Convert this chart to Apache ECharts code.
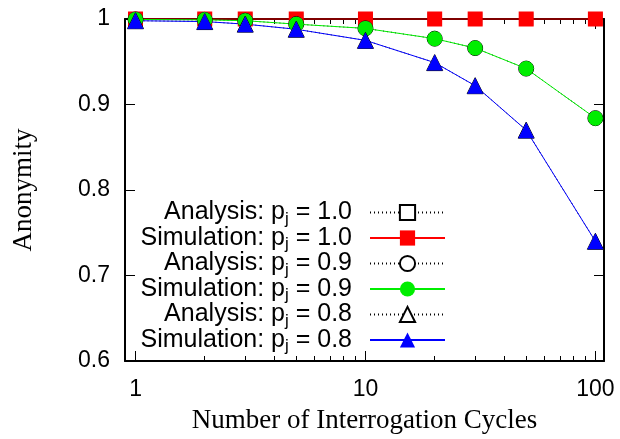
<!DOCTYPE html>
<html>
<head>
<meta charset="utf-8">
<script src="https://cdn.jsdelivr.net/npm/echarts@6/dist/echarts.min.js"></script>
<style>
  html, body { margin: 0; padding: 0; background: #fff; }
  #chart { width: 620px; height: 439px; }
</style>
</head>
<body>
<div id="chart"></div>
<script>
// interrogation cycles (x) and anonymity values (y)
const cycles = [1, 2, 3, 5, 10, 20, 30, 50, 100]
const anaP10 = [1, 1, 1, 1, 1, 1, 1, 1, 1]
const simP10 = [1, 1, 1, 1, 1, 1, 1, 1, 1]
const anaP09 = [0.9995, 0.999, 0.998, 0.994, 0.989, 0.977, 0.966, 0.942, 0.884]
const simP09 = [0.9995, 0.999, 0.998, 0.994, 0.989, 0.977, 0.966, 0.942, 0.884]
const anaP08 = [0.998, 0.997, 0.994, 0.988, 0.975, 0.949, 0.922, 0.870, 0.740]
const simP08 = [0.998, 0.997, 0.994, 0.988, 0.975, 0.949, 0.922, 0.870, 0.740]

const majorTicksX = [1, 10, 100]
const minorTicksX = [2, 3, 4, 5, 6, 7, 8, 9, 20, 30, 40, 50, 60, 70, 80, 90]

const legendNames = [
  'Analysis: pj = 1.0', 'Simulation: pj = 1.0',
  'Analysis: pj = 0.9', 'Simulation: pj = 0.9',
  'Analysis: pj = 0.8', 'Simulation: pj = 0.8'
]

const pairs = ys => cycles.map((x, i) => [x, ys[i]])

const chart = echarts.init(document.getElementById('chart'))

const sansFont = 'Liberation Sans'
const serifFont = 'Liberation Serif'

const xBase = {
  type: 'log',
  min: 0.9,
  max: 109,
  splitLine: { show: false },
  axisLine: { show: false },
  axisLabel: { show: false },
  axisTick: { inside: true, length: 5, lineStyle: { color: '#000', width: 1 }, customValues: minorTicksX }
}

const analysis = (name, ys, symbol, size) => ({
  name,
  type: 'line',
  data: pairs(ys),
  symbol,
  symbolSize: size,
  clip: false,
  itemStyle: { color: '#fff', borderColor: '#000', borderWidth: 1 },
  lineStyle: { color: '#000', width: 1, type: [1, 3] },
  emphasis: { disabled: true }
})

const simulation = (name, ys, symbol, size, color) => ({
  name,
  type: 'line',
  data: pairs(ys),
  symbol,
  symbolSize: size,
  clip: false,
  itemStyle: { color, borderWidth: 0 },
  lineStyle: { color, width: 1 },
  emphasis: { disabled: true }
})

const option = {
  animation: false,
  grid: { left: 125, right: 16, top: 19, bottom: 77 },
  legend: {
    orient: 'vertical',
    right: 174,
    top: 200,
    padding: 0,
    itemGap: -2,
    itemWidth: 75,
    itemHeight: 19,
    align: 'right',
    data: legendNames,
    formatter: name => {
      const [head, tail] = name.split('pj')
      return '{t|' + head + 'p}{sub|j}{t|' + tail + '}{sp| }'
    },
    textStyle: {
      color: '#000',
      rich: {
        t: { fontFamily: sansFont, fontSize: 25, lineHeight: 30, color: '#000' },
        sub: { fontFamily: sansFont, fontSize: 17, verticalAlign: 'bottom', color: '#000' },
        sp: { width: 13 }
      }
    }
  },
  xAxis: [
    {
      type: 'log',
      min: 0.9,
      max: 109,
      position: 'bottom',
      name: 'Number of Interrogation Cycles',
      nameLocation: 'middle',
      nameGap: 46,
      nameTextStyle: { fontFamily: serifFont, fontSize: 27, color: '#000' },
      splitLine: { show: false },
      axisLine: { show: true, lineStyle: { color: '#000', width: 2 } },
      axisTick: { inside: true, length: 10, lineStyle: { color: '#000', width: 1 }, customValues: majorTicksX },
      axisLabel: { fontFamily: sansFont, fontSize: 23, color: '#000', margin: 17, customValues: majorTicksX }
    },
    Object.assign({}, xBase, { position: 'bottom' }),
    Object.assign({}, xBase, {
      position: 'top',
      axisLine: { show: true, lineStyle: { color: '#000', width: 2 } },
      axisTick: { inside: true, length: 10, lineStyle: { color: '#000', width: 1 }, customValues: majorTicksX }
    }),
    Object.assign({}, xBase, { position: 'top' })
  ],
  yAxis: [
    {
      type: 'value',
      min: 0.6,
      max: 1,
      interval: 0.1,
      position: 'left',
      name: 'Anonymity',
      nameLocation: 'middle',
      nameGap: 88,
      nameTextStyle: { fontFamily: serifFont, fontSize: 27, color: '#000' },
      splitLine: { show: false },
      axisLine: { show: true, lineStyle: { color: '#000', width: 2 } },
      axisTick: { inside: true, length: 10, lineStyle: { color: '#000', width: 1 } },
      axisLabel: { fontFamily: sansFont, fontSize: 23, color: '#000', margin: 15 }
    },
    {
      type: 'value',
      min: 0.6,
      max: 1,
      interval: 0.1,
      position: 'right',
      splitLine: { show: false },
      axisLine: { show: true, lineStyle: { color: '#000', width: 2 } },
      axisTick: { inside: true, length: 10, lineStyle: { color: '#000', width: 1 } },
      axisLabel: { show: false }
    }
  ],
  series: [
    analysis(legendNames[0], anaP10, 'rect', 13),
    simulation(legendNames[1], simP10, 'rect', 15, '#ff0000'),
    analysis(legendNames[2], anaP09, 'circle', 15),
    simulation(legendNames[3], simP09, 'circle', 15, '#00ee00'),
    analysis(legendNames[4], anaP08, 'triangle', 16),
    simulation(legendNames[5], simP08, 'triangle', 16, '#0000ff')
  ]
}

chart.setOption(option)
</script>
</body>
</html>
